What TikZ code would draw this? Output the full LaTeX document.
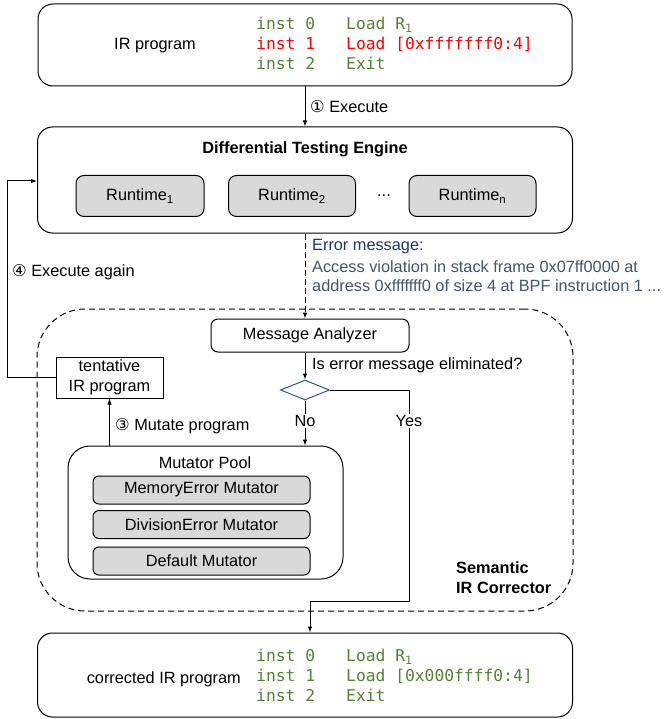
\documentclass[tikz,border=0pt]{standalone}
\usepackage{fontspec}
\setmainfont{Liberation Sans}
\newfontfamily\codefont{DejaVu Sans Mono}
\newfontfamily\symfont{DejaVu Sans}
\usetikzlibrary{arrows.meta,shapes.geometric}
\definecolor{codegreen}{HTML}{548235}
\definecolor{codered}{HTML}{FF0000}
\definecolor{boxgray}{HTML}{D9D9D9}
\definecolor{errnavy}{HTML}{1F3864}
\definecolor{errgray}{HTML}{44546A}
\definecolor{dianavy}{HTML}{2F5597}
\newcommand\basesize{\fontsize{16.3}{19.5}\selectfont}
\newcommand\circnum[1]{{\symfont #1}}
\tikzset{
  bigbox/.style={draw, line width=1pt, rounded corners=15pt, inner sep=0pt},
  graybox/.style={draw, fill=boxgray, line width=1pt, rounded corners=6pt, inner sep=0pt},
  whitebox/.style={draw, line width=1pt, rounded corners=7pt, inner sep=0pt},
  arr/.style={line width=1pt, -{Latex[length=6pt,width=4.5pt]}},
  codetxt/.style={font=\basesize\codefont, text=codegreen, anchor=west, inner sep=0pt, text height=12pt, text depth=3pt},
  lbl/.style={anchor=west, inner sep=0pt},
  onlinelbl/.style={fill=white, inner sep=1.5pt},
}
\begin{document}
\begin{tikzpicture}[x=1pt, y=-1pt, font=\basesize]
\useasboundingbox (0,0) rectangle (665,719);

% ---------- top IR program box ----------
\node[bigbox, minimum width=534pt, minimum height=82pt] (ir) at (305,45) {};
\node (irlabel) at (155,46) {IR program};
\node[codetxt] (t0a) at (256,25) {inst 0};
\node[codetxt] (t0b) at (346,25) {Load R\textsubscript{1}};
\node[codetxt, text=codered] (t1a) at (256,45) {inst 1};
\node[codetxt, text=codered] (t1b) at (346,45) {Load [0xfffffff0:4]};
\node[codetxt] (t2a) at (256,65) {inst 2};
\node[codetxt] (t2b) at (346,65) {Exit};

% ---------- differential testing engine ----------
\node[bigbox, minimum width=535pt, minimum height=106pt] (dte) at (305,180) {};
\node[font=\basesize\bfseries] (dtetitle) at (305,149) {Differential Testing Engine};
\node[graybox, minimum width=128pt, minimum height=41pt, rounded corners=8pt] (rt1) at (140,196) {Runtime\textsubscript{1}};
\node[graybox, minimum width=127pt, minimum height=41pt, rounded corners=8pt] (rt2) at (292,196) {Runtime\textsubscript{2}};
\node (dots) at (384,196) {...};
\node[graybox, minimum width=127pt, minimum height=41pt, rounded corners=8pt] (rtn) at (472.5,196) {Runtime\textsubscript{n}};

\draw[arr] (ir.south) -- (dte.north);
\node[lbl] (exlbl) at (310,107) {\circnum{①} Execute};

% ---------- semantic IR corrector ----------
\node[draw, line width=1pt, dash pattern=on 6pt off 4pt, rounded corners=48pt,
      minimum width=536pt, minimum height=302pt, inner sep=0pt] (sic) at (305,460) {};
\node[font=\basesize\bfseries, align=left, anchor=west, inner sep=0pt] (sictitle) at (456,577.5) {Semantic\\IR Corrector};

\node[whitebox, minimum width=198pt, minimum height=33pt] (ma) at (310,335.5) {Message Analyzer};
\draw[line width=1pt, dash pattern=on 6pt off 3pt, -{Latex[length=6pt,width=4.5pt]}] (dte.south) -- (dte.south |- ma.north);

\node[lbl, text=errnavy] (errtitle) at (312,247) {Error message:};
\node[lbl, text=errgray] (err1) at (312,267) {Access violation in stack frame 0x07ff0000 at};
\node[lbl, text=errgray] (err2) at (312,286) {address 0xfffffff0 of size 4 at BPF instruction 1 ...};

\node[draw=dianavy, line width=1pt, diamond, minimum width=49pt, minimum height=20pt, inner sep=0pt] (dia) at (305,390) {};
\draw[arr] (ma.south -| dia.north) -- (dia.north);
\node[lbl] (qlbl) at (312,365) {Is error message eliminated?};

\node[draw, line width=1pt, minimum width=107pt, minimum height=41pt, inner sep=0pt, align=center, font=\fontsize{16.3}{20}\selectfont] (tent) at (109.5,377.5) {tentative\\IR program};

\node[draw, line width=1pt, rounded corners=22pt, minimum width=275pt, minimum height=133pt, inner sep=0pt] (pool) at (205.5,512.5) {};
\node (pooltitle) at (205,463) {Mutator Pool};
\node[graybox, minimum width=217pt, minimum height=28pt] (mem) at (201.5,490) {MemoryError Mutator};
\node[graybox, minimum width=217pt, minimum height=28pt] (div) at (201.5,524.5) {DivisionError Mutator};
\node[graybox, minimum width=217pt, minimum height=28pt] (def) at (201.5,561) {Default Mutator};

% No branch
\draw[arr] (dia.south) -- (dia.south |- pool.north);
\node[onlinelbl] (nolbl) at (305,421) {No};

% mutate arrow
\draw[arr] (tent.south |- pool.north) -- (tent.south);
\node[lbl] (mutlbl) at (115,426) {\circnum{③} Mutate program};

% execute again loop
\coordinate (loopc) at (7,181);
\draw[arr] (tent.west) -| (loopc) -- (loopc -| dte.west);
\node[lbl] (againlbl) at (12,272) {\circnum{④} Execute again};

% ---------- corrected IR program ----------
\node[bigbox, minimum width=535pt, minimum height=84pt] (cor) at (305,675) {};
\node[anchor=east, inner sep=0pt] (corlabel) at (241,679) {corrected IR program};
\node[codetxt] (c0a) at (256,657) {inst 0};
\node[codetxt] (c0b) at (346,657) {Load R\textsubscript{1}};
\node[codetxt] (c1a) at (256,677) {inst 1};
\node[codetxt] (c1b) at (346,677) {Load [0x000ffff0:4]};
\node[codetxt] (c2a) at (256,697) {inst 2};
\node[codetxt] (c2b) at (346,697) {Exit};

% Yes branch
\coordinate (yes1) at (409,390);
\coordinate (yes2) at (409,601);
\coordinate (yes3) at (310,601);
\draw[arr] (dia.east) -- (yes1) -- (yes2) -- (yes3) -- (yes3 |- cor.north);
\node[onlinelbl] (yeslbl) at (409,421) {Yes};
\end{tikzpicture}
\end{document}
